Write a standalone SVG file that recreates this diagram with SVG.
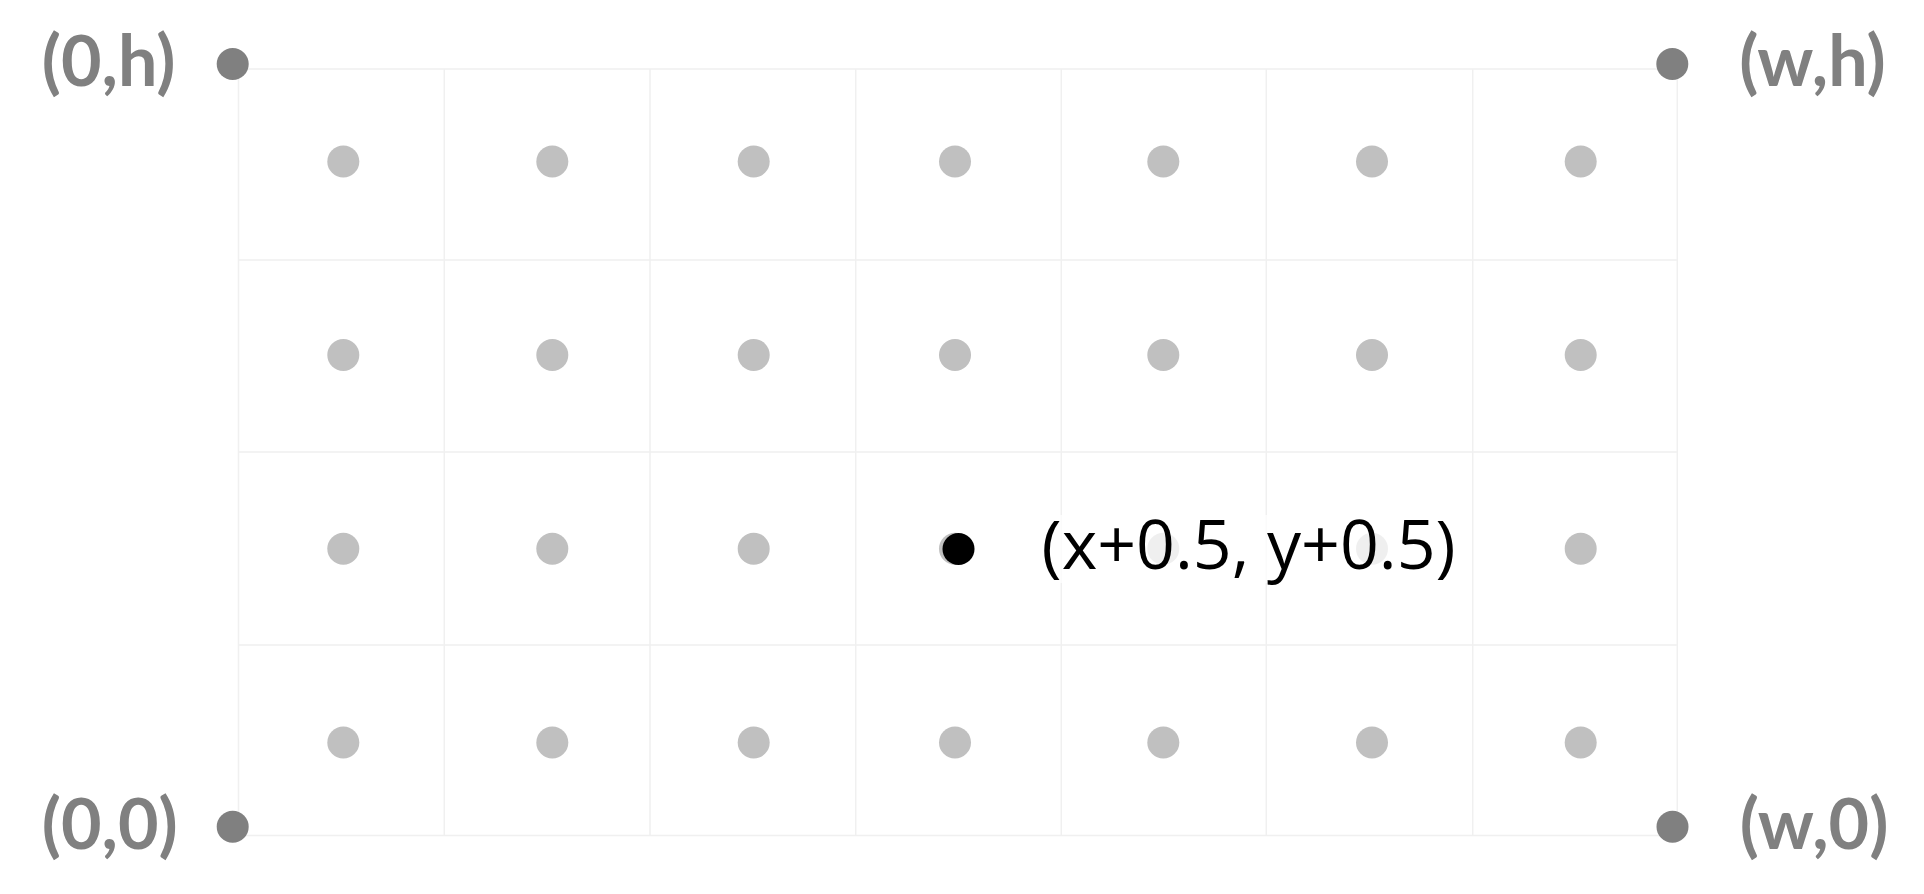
<svg xmlns="http://www.w3.org/2000/svg" width="1924" height="894" viewBox="0 0 1924 894">
<style>
.grid{stroke:#f0f0f0;stroke-width:1.5;fill:none}
.pt{fill:#c0c0c0}
.corner{fill:#808080}
.clabel{font-family:Lato,"Open Sans","DejaVu Sans",sans-serif;font-weight:bold;font-size:70px;fill:#808080}
.mlabel{font-family:"Open Sans","DejaVu Sans",sans-serif;font-size:68px;fill:#000}
</style>
<rect width="1924" height="894" fill="#fff"/>
<g id="grid" class="grid">
<path d="M238.5 69V835.5M444.3 69V835.5M650 69V835.5M855.7 69V835.5M1061.3 69V835.5M1266.3 69V835.5M1472.7 69V835.5M1677.3 69V835.5"/>
<path d="M238.5 69H1677.3M238.5 260H1677.3M238.5 452H1677.3M238.5 645H1677.3M238.5 835.5H1677.3"/>
</g>
<g id="points" class="pt">
<circle cx="343.3" cy="161.5" r="16"/><circle cx="552.3" cy="161.5" r="16"/><circle cx="753.7" cy="161.5" r="16"/><circle cx="955" cy="161.5" r="16"/><circle cx="1163.3" cy="161.5" r="16"/><circle cx="1372" cy="161.5" r="16"/><circle cx="1580.7" cy="161.5" r="16"/>
<circle cx="343.3" cy="355" r="16"/><circle cx="552.3" cy="355" r="16"/><circle cx="753.7" cy="355" r="16"/><circle cx="955" cy="355" r="16"/><circle cx="1163.3" cy="355" r="16"/><circle cx="1372" cy="355" r="16"/><circle cx="1580.7" cy="355" r="16"/>
<circle cx="343.3" cy="548.8" r="16"/><circle cx="552.3" cy="548.8" r="16"/><circle cx="753.7" cy="548.8" r="16"/><circle cx="955" cy="548.8" r="16"/><circle cx="1163.3" cy="548.8" r="16"/><circle cx="1372" cy="548.8" r="16"/><circle cx="1580.7" cy="548.8" r="16"/>
<circle cx="343.3" cy="742.5" r="16"/><circle cx="552.3" cy="742.5" r="16"/><circle cx="753.7" cy="742.5" r="16"/><circle cx="955" cy="742.5" r="16"/><circle cx="1163.3" cy="742.5" r="16"/><circle cx="1372" cy="742.5" r="16"/><circle cx="1580.7" cy="742.5" r="16"/>
</g>
<g id="corner-0h"><circle class="corner" cx="232.7" cy="64" r="16"/><text class="clabel" x="41.7" y="86">(0,h)</text></g>
<g id="corner-wh"><circle class="corner" cx="1672.3" cy="64" r="16"/><text class="clabel" x="1739.3" y="86">(w,h)</text></g>
<g id="corner-00"><circle class="corner" cx="232.7" cy="826.7" r="16"/><text class="clabel" x="41.7" y="849.3">(0,0)</text></g>
<g id="corner-w0"><circle class="corner" cx="1672.5" cy="826.7" r="16"/><text class="clabel" x="1739.7" y="849.3">(w,0)</text></g>
<g id="highlight">
<rect x="1040" y="515" width="418" height="68" fill="#fff" opacity="0.75"/>
<circle cx="958.5" cy="549" r="16" fill="#000"/>
<text class="mlabel" x="1041.6" y="569.3">(x+0.5, y+0.5)</text>
</g>
</svg>
